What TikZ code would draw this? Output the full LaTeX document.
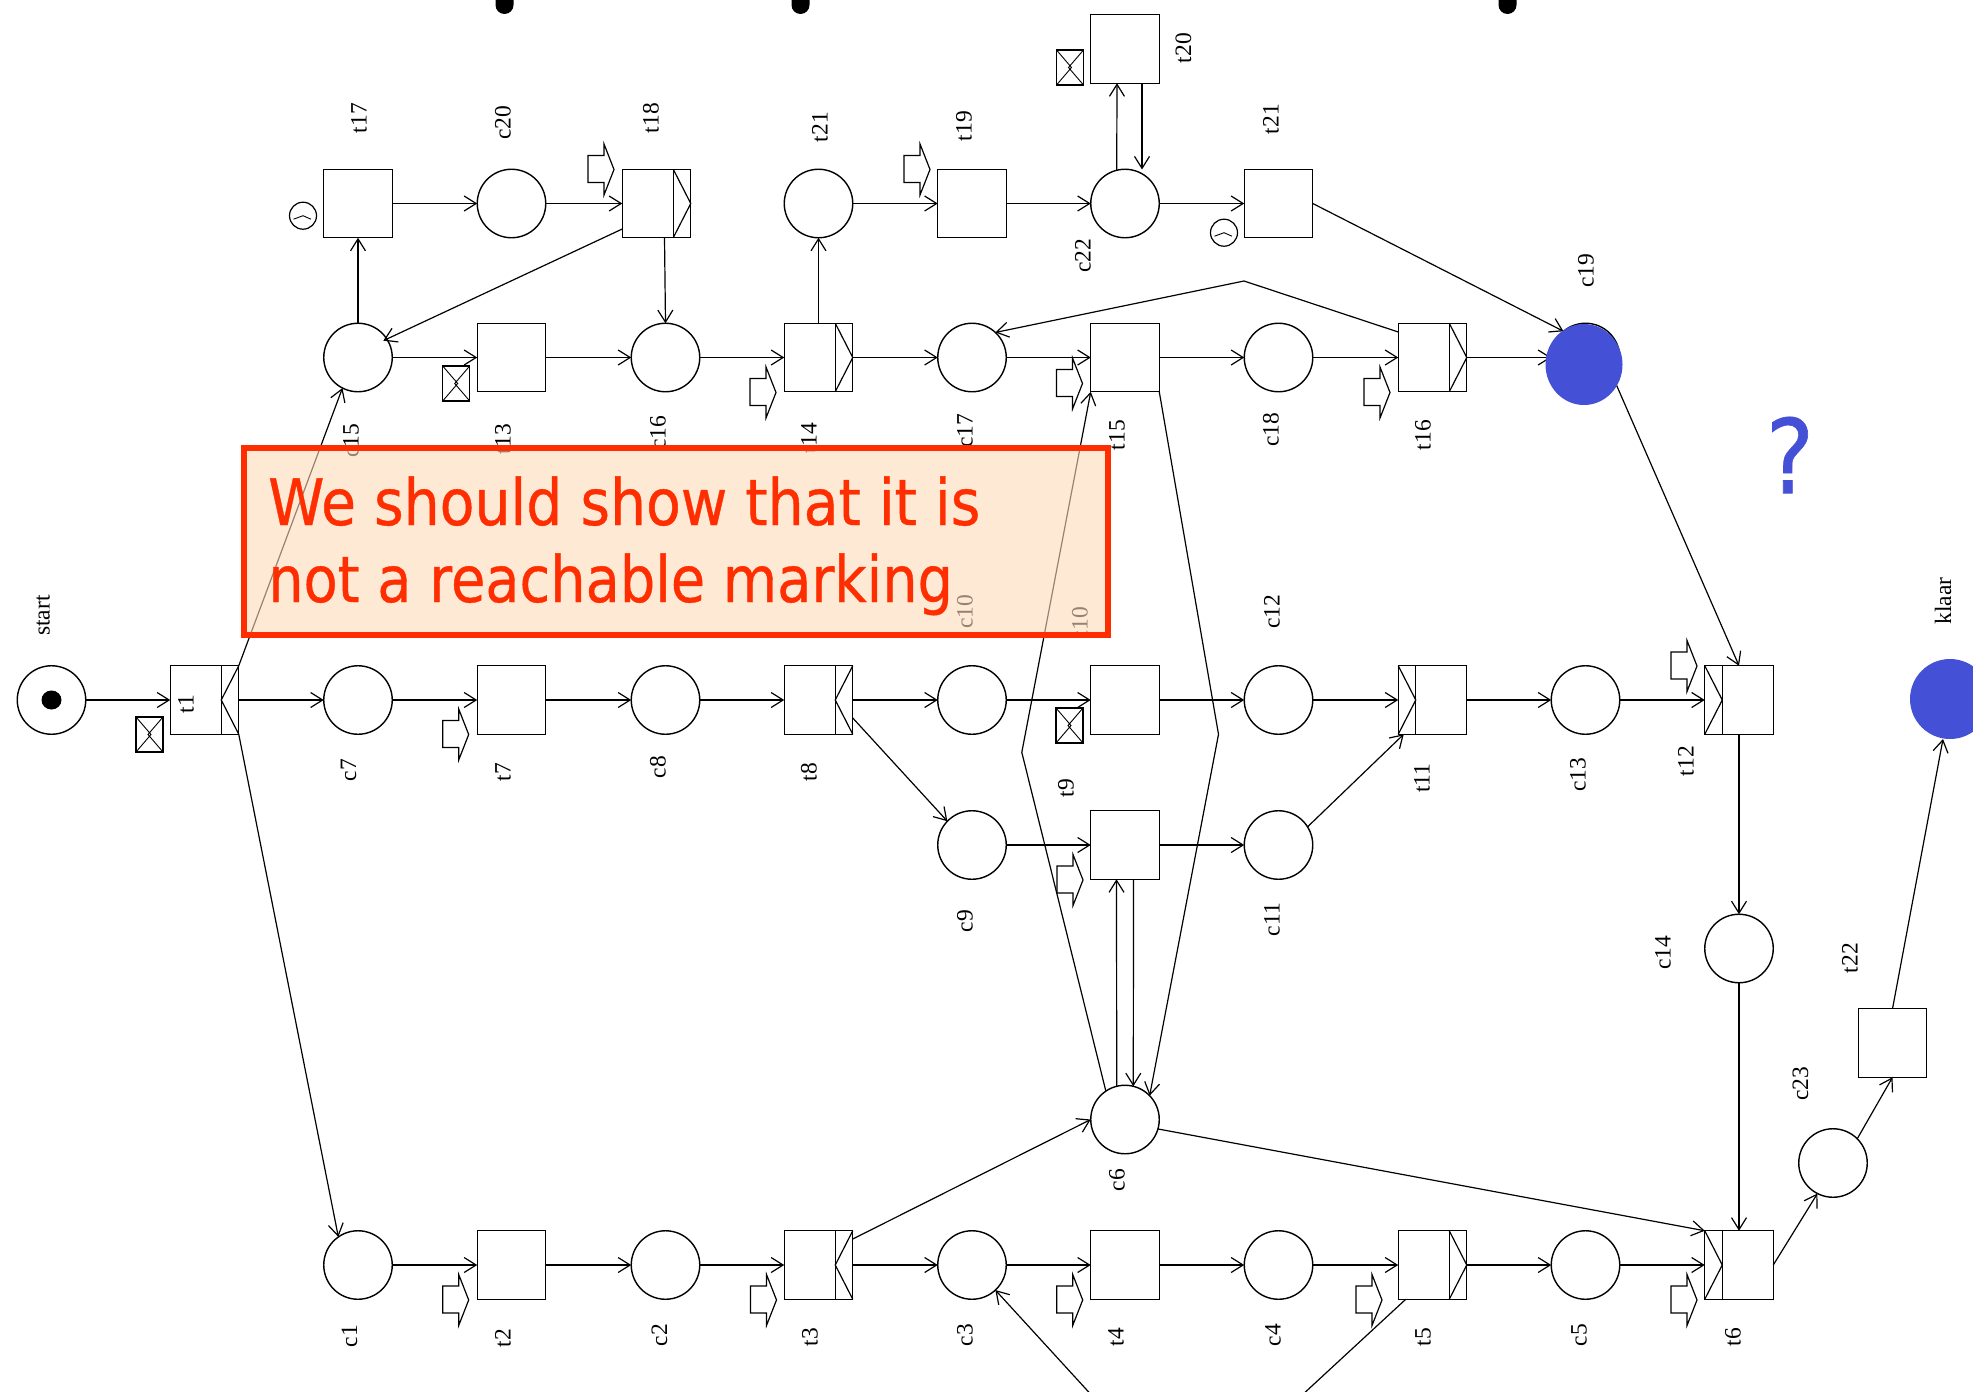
\documentclass[tikz,border=0pt]{standalone}
\usepackage{fontspec}
\usetikzlibrary{arrows.meta,calc,shapes.geometric}
\setmainfont{Liberation Serif}
\newfontfamily\notefont[FakeStretch=0.88,FakeBold=0.6]{DejaVu Sans}
\definecolor{petriblue}{HTML}{4450D5}
\definecolor{notered}{HTML}{FF2E00}
\definecolor{notefill}{RGB}{253,218,185}
\tikzset{
  place/.style={draw,circle,minimum size=68.5pt,inner sep=0pt,outer sep=0pt,line width=1.4pt},
  trans/.style={draw,rectangle,minimum size=68.5pt,inner sep=0pt,outer sep=0pt,line width=1.4pt},
  arc/.style={line width=1.2pt,-{Straight Barb[length=12pt,width=15pt,line width=1.2pt]}},
  thinl/.style={line width=1.2pt},
  lab/.style={rotate=90,inner sep=0pt,outer sep=0pt,text height=16pt,text depth=0pt,font=\fontsize{23.5}{24}\selectfont},
  notetxt/.style={anchor=base west,inner sep=0pt,text=notered,font=\notefont\fontsize{64}{70}\selectfont},
  bluefill/.style={fill=petriblue,ellipse,inner sep=0pt,outer sep=0pt}
}
% bar on the right side, chevron pointing left
\newcommand{\barRL}[1]{\draw[thinl] ([xshift=-17.5pt]#1.north east) -- ([xshift=-17.5pt]#1.south east);
  \draw[thinl] (#1.north east) -- ([xshift=-17.5pt]#1.east) -- (#1.south east);}
% bar on the right side, chevron pointing right
\newcommand{\barRR}[1]{\draw[thinl] ([xshift=-17.5pt]#1.north east) -- ([xshift=-17.5pt]#1.south east);
  \draw[thinl] ([xshift=-17.5pt]#1.north east) -- (#1.east) -- ([xshift=-17.5pt]#1.south east);}
% bar on the left side, chevron pointing right
\newcommand{\barLR}[1]{\draw[thinl] ([xshift=17.5pt]#1.north west) -- ([xshift=17.5pt]#1.south west);
  \draw[thinl] (#1.north west) -- ([xshift=17.5pt]#1.west) -- (#1.south west);}
% manual trigger icon: tip x, centre y
\newcommand{\trig}[2]{\draw[thinl,shift={(#1,-#2)}] (-26,14) -- (-10,14) -- (-10,25.5) -- (0,0) -- (-10,-25.5) -- (-10,-13) -- (-26,-13) -- cycle;}
% envelope icon: left x, top y
\newcommand{\env}[2]{\draw[thinl,shift={(#1,-#2)}] (0,0) rectangle (27,-35);
  \draw[line width=0.9pt,shift={(#1,-#2)}] (0,0) -- (15,-17.5) -- (0,-35) (27,0) -- (12,-17.5) -- (27,-35);}
% clock icon: centre x, centre y
\newcommand{\clk}[2]{\draw[thinl,shift={(#1,-#2)}] (0,0) circle (13.5);
  \draw[line width=0.9pt,shift={(#1,-#2)}] (-9.5,-3.5) -- (0,0) -- (8,-3.5);}
\newcommand{\lab}[4]{\node[lab] (#1) at (#2-1.5,-#3) {#4};}
\begin{document}
\begin{tikzpicture}[x=1pt,y=1pt]
\useasboundingbox (0,0) rectangle (1973,-1392);
\clip (0,0) rectangle (1973,-1392);
% marks at the top edge
\foreach \x in {504.5,800.5,1507.5}
  {\fill (\x-9,10) -- (\x-9,-5) arc[start angle=180,end angle=360,radius=9] -- (\x+9,10) -- cycle;}
% places
\foreach \n/\x/\y in {start/51.5/700,c7/358/700,c8/665.5/700,c10/972/700,c12/1278.5/700,c13/1585.5/700,
  c9/972/845,c11/1278.5/845,c14/1739/948.5,c6/1125/1119.5,c23/1833/1163,
  c1/358/1265,c2/665.5/1265,c3/972/1265,c4/1278.5/1265,c5/1585.5/1265,
  c15/358/357.5,c16/665.5/357.5,c17/972/357.5,c18/1278.5/357.5,c19/1585.5/357.5,
  c20/511.5/203.5,c21/818.5/203.5,c22/1125/203.5}
  {\node[place] (\n) at (\x,-\y) {};}
% transitions
\foreach \n/\x/\y in {t1/204.5/700,t7/511.5/700,t8/818.5/700,t9/1125/700,t11/1432.5/700,t12/1739/700,
  t10/1125/845,t22/1892.5/1043,
  t2/511.5/1265,t3/818.5/1265,t4/1125/1265,t5/1432.5/1265,t6/1739/1265,
  t13/511.5/357.5,t14/818.5/357.5,t15/1125/357.5,t16/1432.5/357.5,
  t17/358/203.5,t18/656.5/203.5,t19/972/203.5,t20/1125/49,t21/1278.5/203.5}
  {\node[trans] (\n) at (\x,-\y) {};}
\node[fill=black,ellipse,minimum width=20pt,minimum height=19pt,inner sep=0pt] (token) at (51.5,-700) {};
% split / join bars
\barRL{t1} \barRL{t8} \barRL{t3}
\barRR{t18} \barRR{t14} \barRR{t16} \barRR{t5}
\barLR{t11} \barLR{t12} \barLR{t6}
% horizontal arcs
\foreach \a/\b in {start/t1,t1/c7,c7/t7,t7/c8,c8/t8,t8/c10,c10/t9,t9/c12,c12/t11,t11/c13,c13/t12,
  c9/t10,t10/c11,c1/t2,t2/c2,c2/t3,t3/c3,c3/t4,t4/c4,c4/t5,t5/c5,c5/t6,
  c15/t13,t13/c16,c16/t14,t14/c17,c17/t15,t15/c18,c18/t16,t16/c19,
  t17/c20,c20/t18,c21/t19,t19/c22,c22/t21}
  {\draw[arc] (\a.east) -- (\b.west);}
% vertical arcs
\draw[arc] (t12.south) -- (c14.north);
\draw[arc] (c14.south) -- (t6.north);
\draw[arc] (c15.north) -- (t17.south);
\draw[arc] (t14.north) -- (c21.south);
\draw[arc] ([xshift=8pt]t18.south) -- (c16.north);
% other arcs
\draw[arc] (t1.north east) -- (c15.-117);
\draw[arc] (t1.south east) -- (c1.125);
\draw[arc] ([yshift=-18pt]t8.east) -- (c9.136);
\draw[arc] (c11.32) -- ([xshift=5.5pt]t11.south west);
\draw[arc] (c6.104) -- ([xshift=-8.5pt]t10.south);
\draw[arc] ([xshift=8.5pt]t10.south) -- (c6.76);
\draw[arc] ([yshift=26pt]t3.east) -- (c6.west);
\draw[arc] (c6.-16) -- (t6.north west);
\draw[arc] (t6.east) -- (c23.-117);
\draw[arc] (c23.45) -- (t22.south);
\draw[arc] ([yshift=-25.5pt]t18.west) -- ([xshift=25.3pt,yshift=16.8pt]c15.center);
\draw[arc] (c22.104) -- ([xshift=-8pt]t20.south);
\draw[arc] ([xshift=17pt]t20.south) -- ([xshift=17pt,yshift=34pt]c22.center);
\draw[arc] (t21.east) -- (c19.130);
\coordinate (apexa) at (1244,-281);
\draw[arc] ([yshift=25.5pt]t16.west) -- (apexa) -- (c17.47);
\draw[arc] (c19.-36) -- (t12.north);
\coordinate (apexb) at (1218.5,-734.3);
\draw[arc] (t15.south east) -- (apexb) -- (c6.44);
\coordinate (apexc) at (1021.8,-752.3);
\draw[arc] (c6.124) -- (apexc) -- (t15.south west);
\coordinate (apexd) at (1188,-1500.5);
\draw[arc] ([xshift=7.5pt]t5.south west) -- (apexd) -- (c3.-47);
% icons
\foreach \x/\y in {614/169.5,930/169.5,776/392.5,1082.5/383.5,1390/392.5,468.7/734.5,1697/666,1083/880,
  468.7/1300,776.5/1300,1082.7/1300,1382/1300,1697/1300}
  {\trig{\x}{\y}}
\foreach \x/\y in {136/717,442.7/366,1056.5/50,1056/708}
  {\env{\x}{\y}}
\clk{303}{215.7}
\clk{1224}{232.7}
% labels
\lab{lstart}{43}{615.5}{start}
\lab{lt1}{187}{704}{t1}
\lab{lc7}{349.5}{770}{c7}
\lab{lt7}{504}{772}{t7}
\lab{lc8}{659}{767}{c8}
\lab{lt8}{810}{772}{t8}
\lab{lc9}{966}{921}{c9}
\lab{lc10}{966}{612}{c10}
\lab{lt10}{1081}{622}{t10}
\lab{lc12}{1273}{612}{c12}
\lab{lt9}{1067}{788}{t9}
\lab{lt11}{1423}{778}{t11}
\lab{lc13}{1579}{775}{c13}
\lab{lt12}{1687}{761}{t12}
\lab{lc11}{1273}{919.5}{c11}
\lab{lc14}{1664}{953}{c14}
\lab{lt22}{1851}{958}{t22}
\lab{lklaar}{1944.5}{601}{klaar}
\lab{lc1}{350.5}{1336}{c1}
\lab{lt2}{504}{1338}{t2}
\lab{lc2}{660.5}{1335}{c2}
\lab{lt3}{811}{1337}{t3}
\lab{lc3}{966}{1335}{c3}
\lab{lt4}{1117}{1337}{t4}
\lab{lc4}{1274}{1335}{c4}
\lab{lt5}{1424}{1337}{t5}
\lab{lc5}{1580}{1335}{c5}
\lab{lt6}{1734}{1337}{t6}
\lab{lc6}{1118}{1180}{c6}
\lab{lc23}{1801.5}{1084}{c23}
\lab{lt17}{360}{118}{t17}
\lab{lc20}{504}{123}{c20}
\lab{lt18}{652}{118}{t18}
\lab{lt21a}{821}{127}{t21}
\lab{lt19}{965}{126}{t19}
\lab{lt20}{1184.5}{48}{t20}
\lab{lt21b}{1272}{119}{t21}
\lab{lc22}{1084}{256}{c22}
\lab{lc19}{1587}{271}{c19}
\lab{lc15}{352}{441}{c15}
\lab{lt13}{504}{439}{t13}
\lab{lc16}{659}{433}{c16}
\lab{lt14}{810}{438}{t14}
\lab{lc17}{966}{431}{c17}
\lab{lt15}{1118}{435}{t15}
\lab{lc18}{1272}{430}{c18}
\lab{lt16}{1424}{435}{t16}
% blue marking
\node[bluefill,minimum width=77pt,minimum height=81pt] (cblue) at (1584,-364.5) {};
\node[bluefill,minimum width=80pt,minimum height=80pt] (klaar) at (1950,-699) {};
\draw[arc] (t22.north) -- ([xshift=-7pt]klaar.south);
% note box
\node[draw=notered,line width=6pt,fill=notefill,fill opacity=0.6,draw opacity=1,minimum width=863.5pt,minimum height=186.7pt,inner sep=0pt] (note) at (675.75,-541.35) {};
\node[notetxt] (notea) at (268,-525) {\scalebox{1.009}[1]{We should show that it is}};
\node[notetxt] (noteb) at (268,-602) {\scalebox{0.991}[1]{not a reachable marking}};
\node[inner sep=0pt,text=petriblue,font=\notefont\fontsize{103}{110}\selectfont] (qmark) at (1790,-455) {?};
\end{tikzpicture}
\end{document}
